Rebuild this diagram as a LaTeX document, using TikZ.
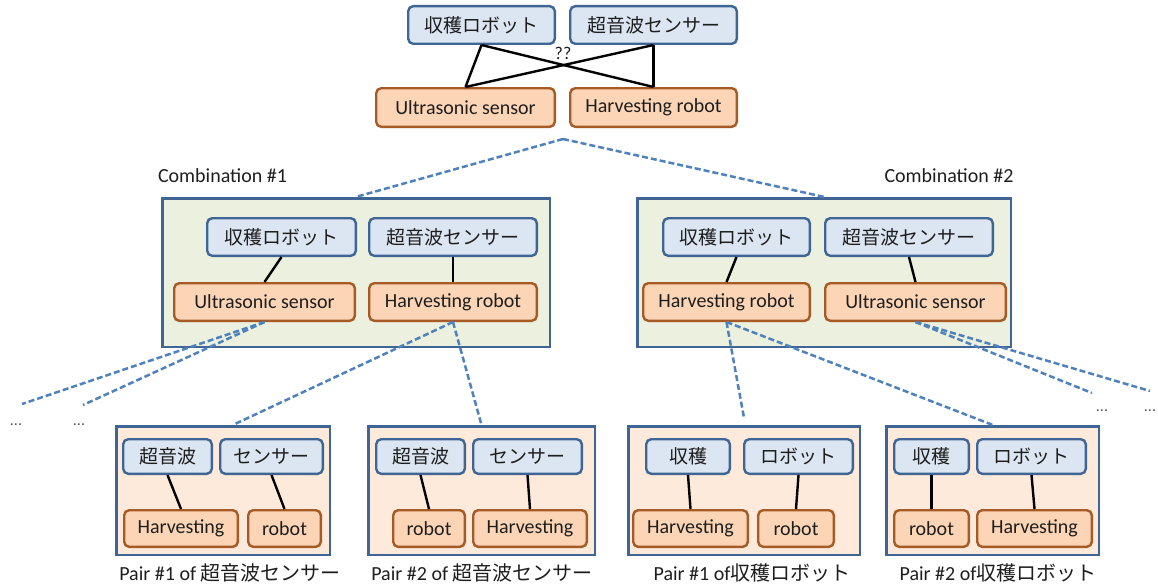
\documentclass[tikz,border=0pt]{standalone}
\usepackage{fontspec}
\setmainfont{Carlito}
\newfontfamily\jp{Noto Sans CJK JP}
\definecolor{jpfill}{HTML}{DCE6F2}
\definecolor{jpline}{HTML}{3F6595}
\definecolor{enfill}{HTML}{FBD5B5}
\definecolor{enline}{HTML}{A65A25}
\definecolor{framecol}{HTML}{3F6595}
\definecolor{combofill}{HTML}{EBF1DE}
\definecolor{pairfill}{HTML}{FDEADA}
\definecolor{dashcol}{HTML}{4F81BD}
\definecolor{ink}{HTML}{1E1E1E}
\begin{document}
\begin{tikzpicture}[x=1pt,y=-1pt,
  wh/.style 2 args={minimum width=#1pt-2.4pt, minimum height=#2pt-2.4pt},
  tag/.style={draw, line width=2.4pt, rounded corners=5pt, inner sep=0pt, text=ink},
  jpbox/.style={tag, fill=jpfill, draw=jpline, font=\jp\fontsize{19}{22}\selectfont},
  enbox/.style={tag, fill=enfill, draw=enline, font=\fontsize{20}{24}\selectfont},
  combo/.style={draw=framecol, fill=combofill, line width=2.6pt, inner sep=0pt},
  pairbox/.style={draw=framecol, fill=pairfill, line width=2.6pt, inner sep=0pt},
  link/.style={line width=2.4pt, draw=black},
  branch/.style={line width=2.5pt, draw=dashcol, dash pattern=on 6pt off 3pt},
  caption/.style={text=ink, font=\fontsize{20}{24}\selectfont, inner sep=0pt},
  more/.style={text=black!65, font=\fontsize{16}{18}\selectfont, inner sep=0pt, anchor=base}
]
\useasboundingbox (0,0) rectangle (1158,586);

% ---- unresolved pairing at the top ----
\node[jpbox, wh={149}{40}] (tshu) at (481.5,25) {収穫ロボット};
\node[jpbox, wh={169}{40}] (tcho) at (653.5,25) {超音波センサー};
\node[enbox, wh={181}{41}] (tus) at (465.5,107.5) {Ultrasonic sensor};
\node[enbox, wh={169}{41}] (thr) at (653.5,107.5) {Harvesting robot};
\draw[link] (tshu.south) -- (tus.north);
\draw[link] (tshu.south) -- (thr.north);
\draw[link] (tcho.south) -- (thr.north);
\draw[link] (tcho.south) -- (tus.north);
\node[text=ink, font=\fontsize{18}{20}\selectfont, inner sep=0pt] (qq) at (563,53) {??};
\coordinate (root) at (563,139);

% ---- combination frames ----
\node[combo, wh={390}{151}] (comb1) at (356,272.5) {};
\node[combo, wh={376}{151}] (comb2) at (824,272.5) {};
\node[caption] (cap1) at (222.5,176) {Combination \#1};
\node[caption] (cap2) at (949,176) {Combination \#2};

\node[jpbox, wh={151}{40}] (c1shu) at (281.5,237) {収穫ロボット};
\node[jpbox, wh={170}{40}] (c1cho) at (453,237) {超音波センサー};
\node[enbox, wh={183}{40}] (c1us) at (264.5,302) {Ultrasonic sensor};
\node[enbox, wh={170}{40}] (c1hr) at (453,302) {Harvesting robot};
\draw[link] (c1shu.south) -- (c1us.north);
\draw[link] (c1cho.south) -- (c1hr.north);

\node[jpbox, wh={149}{40}] (c2shu) at (736.5,237) {収穫ロボット};
\node[jpbox, wh={170}{40}] (c2cho) at (909,237) {超音波センサー};
\node[enbox, wh={169}{40}] (c2hr) at (726.5,302) {Harvesting robot};
\node[enbox, wh={183}{40}] (c2us) at (915.5,302) {Ultrasonic sensor};
\draw[link] (c2shu.south) -- (c2hr.north);
\draw[link] (c2cho.south) -- (c2us.north);

% ---- pair frames ----
\node[pairbox, wh={216}{131}] (p1) at (223,490.5) {};
\node[pairbox, wh={229}{131}] (p2) at (481.5,490.5) {};
\node[pairbox, wh={234}{131}] (p3) at (744,490.5) {};
\node[pairbox, wh={215}{131}] (p4) at (992.5,490.5) {};

\node[jpbox, wh={91}{37}] (p1a) at (167.5,456.5) {超音波};
\node[jpbox, wh={105}{37}] (p1b) at (271.5,456.5) {センサー};
\node[enbox, wh={116}{39}] (p1c) at (181,528.5) {Harvesting};
\node[enbox, wh={75}{39}] (p1d) at (284.5,528.5) {robot};
\draw[link] (p1a.south) -- (p1c.north);
\draw[link] (p1b.south) -- (p1d.north);

\node[jpbox, wh={91}{37}] (p2a) at (420.5,456.5) {超音波};
\node[jpbox, wh={111}{37}] (p2b) at (527.5,456.5) {センサー};
\node[enbox, wh={74}{39}] (p2c) at (429,528.5) {robot};
\node[enbox, wh={116}{39}] (p2d) at (530,528.5) {Harvesting};
\draw[link] (p2a.south) -- (p2c.north);
\draw[link] (p2b.south) -- (p2d.north);

\node[jpbox, wh={86}{37}] (p3a) at (688,456.5) {収穫};
\node[jpbox, wh={111}{37}] (p3b) at (798.5,456.5) {ロボット};
\node[enbox, wh={117}{39}] (p3c) at (690.5,528.5) {Harvesting};
\node[enbox, wh={78}{39}] (p3d) at (796,528.5) {robot};
\draw[link] (p3a.south) -- (p3c.north);
\draw[link] (p3b.south) -- (p3d.north);

\node[jpbox, wh={77}{37}] (p4a) at (931.5,456.5) {収穫};
\node[jpbox, wh={111}{37}] (p4b) at (1031.5,456.5) {ロボット};
\node[enbox, wh={77}{39}] (p4c) at (931.5,528.5) {robot};
\node[enbox, wh={117}{39}] (p4d) at (1034.5,528.5) {Harvesting};
\draw[link] (p4a.south) -- (p4c.north);
\draw[link] (p4b.south) -- (p4d.north);

\node[caption] (pc1) at (230,573) {Pair \#1 of {\jp 超音波センサー}};
\node[caption] (pc2) at (482,573) {Pair \#2 of {\jp 超音波センサー}};
\node[caption] (pc3) at (752,573) {Pair \#1 of{\jp 収穫ロボット}};
\node[caption] (pc4) at (998,573) {Pair \#2 of{\jp 収穫ロボット}};

% ---- loose ends ----
\coordinate (l1) at (22,404);
\coordinate (l2) at (83,405);
\coordinate (r1) at (1092,393);
\coordinate (r2) at (1150,391);
\node[more] (m1) at (16,425) {...};
\node[more] (m2) at (79,425) {...};
\node[more] (m3) at (1102,411) {...};
\node[more] (m4) at (1150,411) {...};

% ---- branching connectors ----
\draw[branch] (root) -- (comb1.north);
\draw[branch] (root) -- (comb2.north);
\draw[branch] (c1us.south) -- (l1);
\draw[branch] (c1us.south) -- (l2);
\draw[branch] (c1hr.south) -- ([xshift=10pt]p1.north);
\draw[branch] (c1hr.south) -- (p2.north);
\draw[branch] (c2hr.south) -- ([yshift=7pt]p3.north);
\draw[branch] (c2hr.south) -- (p4.north);
\draw[branch] (c2us.south) -- (r1);
\draw[branch] (c2us.south) -- (r2);
\end{tikzpicture}
\end{document}
